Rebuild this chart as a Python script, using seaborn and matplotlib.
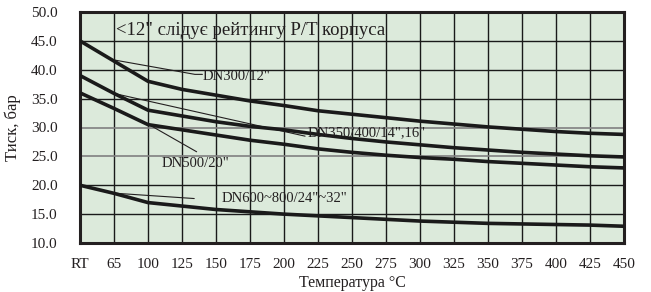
import matplotlib
matplotlib.use("Agg")
import matplotlib.pyplot as plt
import seaborn as sns
import pandas as pd
import numpy as np

temps = ["RT", "65", "100", "125", "150", "175", "200", "225", "250",
         "275", "300", "325", "350", "375", "400", "425", "450"]
dn300 = [45.0, 41.5, 38.0, 36.6, 35.6, 34.6, 33.8, 32.9, 32.3, 31.7, 31.1,
         30.6, 30.1, 29.7, 29.3, 29.0, 28.8]
dn350 = [39.0, 35.9, 33.0, 32.0, 31.0, 30.2, 29.6, 28.8, 28.1, 27.5, 27.0,
         26.5, 26.1, 25.7, 25.4, 25.1, 24.9]
dn500 = [36.0, 33.3, 30.5, 29.6, 28.7, 27.8, 27.1, 26.3, 25.7, 25.2, 24.8,
         24.5, 24.1, 23.8, 23.5, 23.2, 23.0]
dn600 = [20.0, 18.6, 17.0, 16.4, 15.8, 15.4, 15.0, 14.7, 14.4, 14.1, 13.8,
         13.6, 13.4, 13.3, 13.2, 13.1, 12.9]
series_names = ['DN300/12"', 'DN350/400/14",16"', 'DN500/20"', 'DN600~800/24"~32"']
title_text = '<12" слідує рейтингу P/T корпуса'
xlabel = "Температура °C"
ylabel = "Тиск, бар"
yticks = [10, 15, 20, 25, 30, 35, 40, 45, 50]

sns.set_style("white")
plt.rcParams["font.family"] = ["Liberation Serif", "DejaVu Serif"]

rows = []
for name, vals in zip(series_names, [dn300, dn350, dn500, dn600]):
    for i, v in enumerate(vals):
        rows.append({"pos": i, "val": v, "series": name})
df = pd.DataFrame(rows)

fig = plt.figure(figsize=(6.51, 2.92), dpi=100)
ax = fig.add_axes([80/651, 1-243/292, (624-80)/651, (243-12)/292])
ax.set_facecolor("#dceadb")

sns.lineplot(data=df, x="pos", y="val", hue="series",
             palette=["#1a1a1a"]*4, linewidth=2.6, legend=False, ax=ax,
             zorder=3)

ax.set_xlim(0, len(temps)-1)
ax.set_ylim(10, 50)
ax.set_xticks(range(len(temps)))
ax.set_xticklabels(temps)
ax.set_yticks(yticks)
ax.set_yticklabels([f"{t:.1f}" for t in yticks])
ax.tick_params(axis="both", length=0, labelsize=11, colors="#231f20")
ax.tick_params(axis="x", pad=11)
ax.tick_params(axis="y", pad=16)
ax.grid(True, color="#1a1a1a", linewidth=1.0, zorder=1)
for t, gl in zip(yticks, ax.yaxis.get_gridlines()):
    if t in (25, 30):
        gl.set_color("#808080")
        gl.set_linewidth(1.2)
ax.set_axisbelow(True)
for sp in ax.spines.values():
    sp.set_visible(True)
    sp.set_color("#231f20")
    sp.set_linewidth(2.2)

ax.set_xlabel(xlabel, fontsize=11.5, color="#231f20", labelpad=3)
ax.set_ylabel(ylabel, fontsize=12, color="#231f20", labelpad=7)

lc = "#231f20"
# annotations
ax.plot([1, 3.38, 3.6], [41.7, 39.2, 39.2], color=lc, lw=0.8, zorder=2)
ax.text(3.62, 38.8, series_names[0], fontsize=10.5, color=lc, va="center", ha="left")
ax.plot([1, 6.62], [35.9, 28.5], color=lc, lw=0.8, zorder=2)
ax.text(6.68, 29.1, series_names[1], fontsize=10.5, color=lc, va="center", ha="left")
ax.plot([2, 3.43], [30.6, 25.8], color=lc, lw=0.8, zorder=2)
ax.text(2.4, 23.7, series_names[2], fontsize=10.5, color=lc, va="center", ha="left")
ax.plot([1.08, 3.36], [18.6, 17.7], color=lc, lw=0.8, zorder=2)
ax.text(4.17, 17.7, series_names[3], fontsize=10.5, color=lc, va="center", ha="left")

ax.text(1.05, 46.8, title_text, fontsize=13.5, color=lc, va="center", ha="left")

fig.savefig("out.png", dpi=100)
